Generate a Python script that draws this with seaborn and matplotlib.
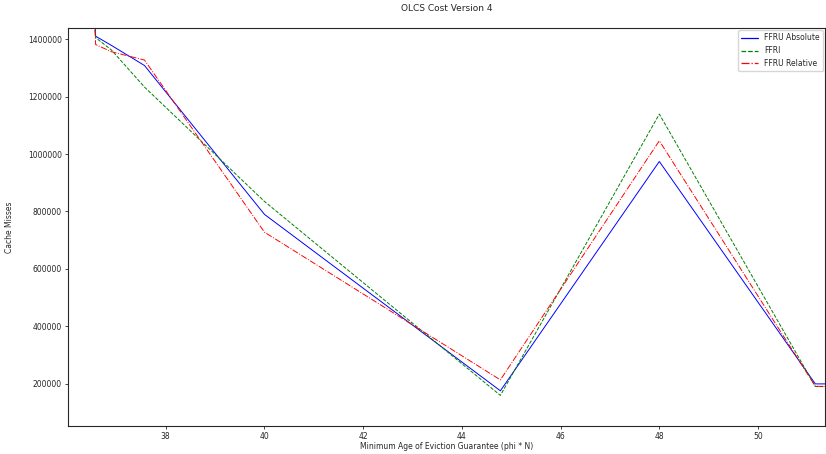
import pandas as pd
import seaborn as sns
import matplotlib
matplotlib.use("Agg")
import matplotlib.pyplot as plt
from matplotlib.lines import Line2D

# values
phi_n = [36.52, 36.58, 36.9, 37.57, 40.0, 44.78, 48.0, 51.16, 51.6]
ffru_absolute = [1650000, 1410000, 1378000, 1308000, 790000, 176000, 974000, 200000, 200000]
ffri = [1600000, 1405000, 1362000, 1233000, 835000, 160000, 1139000, 191000, 190000]
ffru_relative = [1600000, 1381000, 1356000, 1327000, 728000, 214000, 1046000, 192000, 190000]

series = [
    ("FFRU Absolute", ffru_absolute, "blue", "-"),
    ("FFRI", ffri, "green", "--"),
    ("FFRU Relative", ffru_relative, "red", "-."),
]

sns.set_style("ticks")
plt.rcParams["font.family"] = ["DejaVu Sans"]

fig, ax = plt.subplots(figsize=(8.26, 4.54), dpi=100)
fig.subplots_adjust(left=0.0823, right=0.999, top=0.938, bottom=0.062)

handles = []
for name, vals, color, ls in series:
    df = pd.DataFrame({"x": phi_n, "y": vals})
    sns.lineplot(data=df, x="x", y="y", ax=ax, color=color, linestyle=ls,
                 linewidth=0.7, legend=False)
    handles.append(Line2D([], [], color=color, linestyle=ls, linewidth=0.9, label=name))

ax.set_xlim(36.02, 51.36)
ax.set_ylim(54000, 1438000)
ax.set_xticks([38, 40, 42, 44, 46, 48, 50])
ax.set_yticks([200000, 400000, 600000, 800000, 1000000, 1200000, 1400000])
ax.ticklabel_format(style="plain", axis="y")
ax.tick_params(labelsize=5.5, length=2.5, width=0.6, pad=2)
for sp in ax.spines.values():
    sp.set_linewidth(0.8)

ax.set_title("OLCS Cost Version 4", fontsize=6.5, pad=12)
ax.set_xlabel("Minimum Age of Eviction Guarantee (phi * N)", fontsize=5.5, labelpad=1)
ax.set_ylabel("Cache Misses", fontsize=5.5, labelpad=10)
ax.legend(handles=handles, loc="upper right", fontsize=5.5, frameon=True,
          handlelength=2.2, borderaxespad=0.3)

plt.savefig("out.png", dpi=100)
